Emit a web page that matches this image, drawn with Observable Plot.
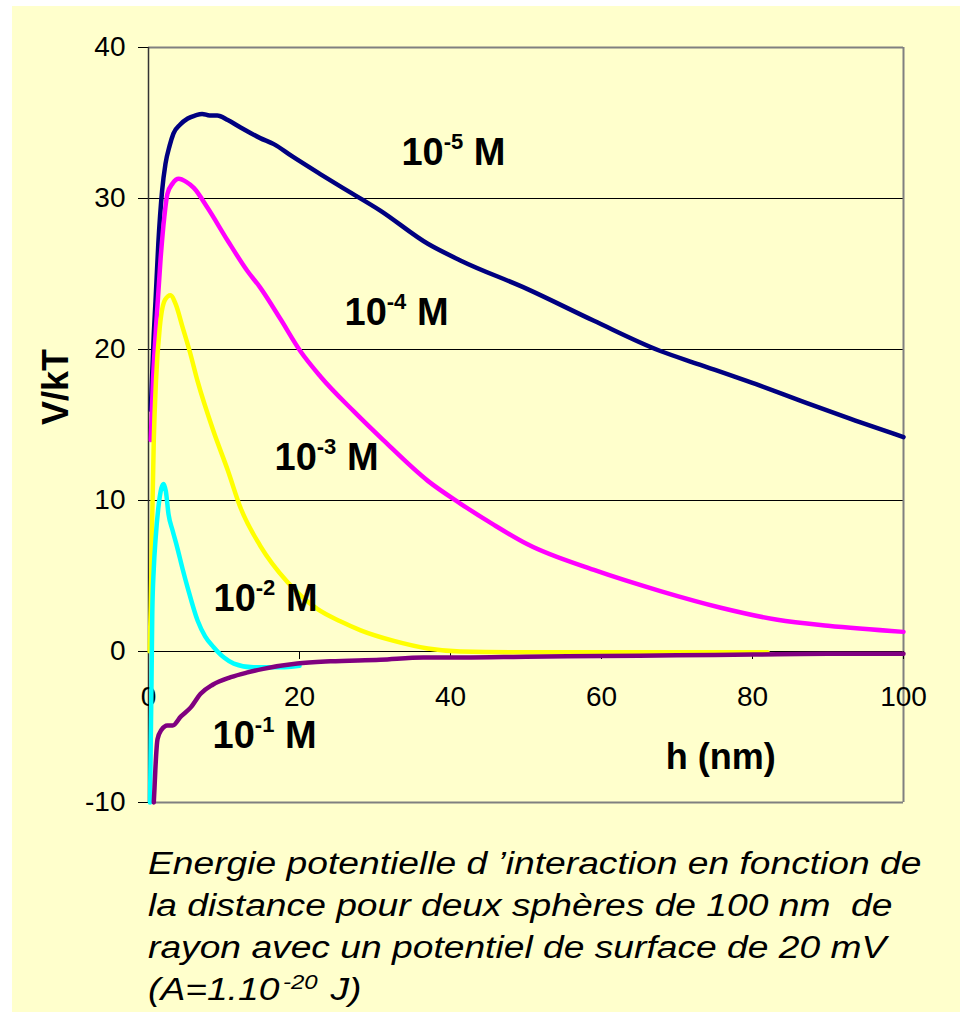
<!DOCTYPE html>
<html><head><meta charset="utf-8">
<script src="https://cdn.jsdelivr.net/npm/d3@7"></script>
<script src="https://cdn.jsdelivr.net/npm/@observablehq/plot@0.6"></script>
<style>
html,body{margin:0;padding:0;background:#fff;}
#bg{position:absolute;left:12px;top:6px;width:948px;height:1006px;background:#FFFFCC;}
#chart{position:absolute;left:0;top:0;}
#caption{position:absolute;left:148px;top:843px;font-family:"Liberation Sans",Arial,sans-serif;font-style:italic;font-size:31px;line-height:42px;white-space:pre;transform:scaleX(1.2);transform-origin:0 0;color:#000;}
#caption .sup{font-size:20px;vertical-align:super;line-height:0;margin-left:3px;margin-right:2px;}
</style></head><body>
<div id="bg"></div><div id="chart"></div><div id="caption"></div>
<script>
// ---------- data ----------
const xTicks = [0, 20, 40, 60, 80, 100];
const yTicks = [-10, 0, 10, 20, 30, 40];
const xLabel = "h (nm)";
const yLabel = "V/kT";

// 10^-5 M
const h_m5 = [0.3, 0.5, 0.7, 0.93, 1.3, 1.8, 2.25, 2.8, 3.3, 4.2, 5.2, 6.2, 7.1, 8.1, 9.1, 10.5, 12.2, 14.8, 16.6, 19, 22.8, 25.4, 30.7, 37, 41.3, 50.2, 59, 67.8, 73, 81, 86.4, 93, 100];
const v_m5 = [16, 18.5, 21, 23.2, 27, 30.5, 32.3, 33.5, 34.3, 34.9, 35.3, 35.5, 35.6, 35.5, 35.5, 35.2, 34.7, 34.0, 33.6, 32.8, 31.6, 30.8, 29.2, 27.0, 25.9, 24.0, 21.9, 19.9, 19.0, 17.6, 16.6, 15.4, 14.2];
// 10^-4 M
const h_m4 = [0.3, 0.6, 1.0, 1.6, 2.1, 2.5, 3.2, 4.0, 5.0, 6.0, 7.8, 10.5, 13.1, 14.8, 17.5, 20.1, 22.8, 27.2, 31.1, 37, 41.3, 45.7, 50.2, 59, 67.8, 75.8, 83.3, 90, 100];
const v_m4 = [14, 18, 21.5, 26, 28.8, 30.3, 31.0, 31.3, 31.1, 30.7, 29.4, 27.2, 25.2, 24.1, 22.0, 19.9, 18.2, 15.9, 14.0, 11.3, 9.8, 8.4, 7.1, 5.4, 4.0, 2.9, 2.1, 1.7, 1.3];
// 10^-3 M
const h_m3 = [0.15, 0.3, 0.5, 0.7, 1.0, 1.5, 2.2, 2.9, 3.6, 4.5, 5.5, 6.5, 8.6, 10.5, 12.2, 14.8, 18.4, 22.4, 25.4, 28.1, 32.5, 37, 41.3, 50, 60, 70, 82];
const v_m3 = [0, 3, 9, 14, 18, 21.5, 23.3, 23.6, 23.0, 21.5, 19.8, 17.9, 14.6, 12.0, 9.5, 7.0, 4.6, 2.8, 2.0, 1.4, 0.7, 0.2, 0.0, -0.05, -0.05, -0.05, -0.05];
// 10^-2 M
const h_m2 = [0.2, 0.3, 0.4, 0.5, 0.7, 0.93, 1.3, 1.7, 2.0, 2.3, 2.65, 3.2, 3.8, 4.5, 5.2, 6.5, 7.5, 8.6, 10, 11.3, 13.9, 17.5, 20];
const v_m2 = [-10, -6, -2, 2.5, 5.5, 7.4, 9.5, 10.8, 11.1, 10.6, 9.1, 8.0, 6.9, 5.5, 4.2, 2.05, 1.0, 0.3, -0.4, -0.8, -1.05, -1.05, -0.95];
// 10^-1 M
const h_m1 = [0.7, 0.8, 0.9, 1.2, 1.7, 2.5, 3.2, 4.3, 5.6, 6.9, 8.5, 10.9, 13, 15.2, 19.7, 24.1, 30.7, 36.4, 41.7, 50, 60, 70, 80, 90, 100];
const v_m1 = [-10, -9, -7.9, -5.8, -5.2, -4.9, -4.9, -4.3, -3.7, -2.8, -2.2, -1.7, -1.4, -1.15, -0.8, -0.65, -0.55, -0.4, -0.4, -0.35, -0.3, -0.25, -0.2, -0.15, -0.15];

const labelBase = ["10", "10", "10", "10", "10"];
const labelExp  = ["-5", "-4", "-3", "-2", "-1"];
const labelUnit = [" M", " M", " M", " M", " M"];

const captionLines = [
  "Energie potentielle d \u2019interaction en fonction de",
  "la distance pour deux sph\u00e8res de 100 nm  de",
  "rayon avec un potentiel de surface de 20 mV"
];
const captionLast = ["(A=1.10", "-20", "J)"];

// ---------- chart ----------
const SEP = "\u2063";
const series = [
  {h: h_m5, v: v_m5, stroke: "#000080"},
  {h: h_m4, v: v_m4, stroke: "#FF00FF"},
  {h: h_m3, v: v_m3, stroke: "#FFFF00"},
  {h: h_m2, v: v_m2, stroke: "#00FFFF"},
  {h: h_m1, v: v_m1, stroke: "#800080"}
];
// label anchor positions (data coords), one per label
const labelAnchors = [[33.5, 32.25], [25.96, 21.59], [16.69, 12.05], [8.61, 2.71], [8.48, -6.36]];
const labelData = labelBase.map((b, i) => ({x: labelAnchors[i][0], y: labelAnchors[i][1], text: b + SEP + labelExp[i] + SEP + labelUnit[i]}));

const plot = Plot.plot({
  width: 968, height: 830,
  marginLeft: 148, marginRight: 65, marginTop: 47, marginBottom: 28,
  x: {domain: [0, 100], axis: null},
  y: {domain: [-10, 40], axis: null},
  style: {background: "transparent", fontFamily: "'Liberation Sans', Arial, sans-serif", color: "#000", overflow: "visible"},
  marks: [
    Plot.ruleY(yTicks.filter(d => d > 0 && d < 40), {stroke: "#000", strokeWidth: 1}),
    Plot.ruleY([0], {stroke: "#000", strokeWidth: 1.2}),
    Plot.ruleY([40, -10], {stroke: "#808080", strokeWidth: 2}),
    Plot.ruleX([100], {stroke: "#808080", strokeWidth: 2}),
    Plot.ruleX(xTicks.filter(d => d > 0), {x: d => d, y1: 0, y2: 0, insetBottom: -8, stroke: "#000", strokeWidth: 1}),
    Plot.axisY({ticks: yTicks, tickSize: 10, tickPadding: 13, fontSize: 28, tickFormat: d => String(d), label: null}),
    Plot.ruleX([0], {stroke: "#333", strokeWidth: 1.5}),
    Plot.text(xTicks, {x: d => d, y: 0, dy: 46, text: d => String(d), fontSize: 28}),
    ...series.map(s => Plot.line(d3.zip(s.h, s.v), {x: d => d[0], y: d => d[1], stroke: s.stroke, strokeWidth: 4.5, curve: "monotone-x"})),
    Plot.text(labelData, {x: "x", y: "y", text: "text", fontSize: 38, fontWeight: "bold", textAnchor: "start", lineAnchor: "bottom"}),
    Plot.text([xLabel], {x: 75.8, y: -7.75, text: d => d, fontSize: 36, fontWeight: "bold", lineAnchor: "bottom"}),
    Plot.text([yLabel], {frameAnchor: "left", dx: -92, rotate: -90, text: d => d, fontSize: 36, fontWeight: "bold"})
  ]
});
document.getElementById("chart").append(plot);

// superscripts
const NS = "http://www.w3.org/2000/svg";
for (const t of plot.querySelectorAll("text")) {
  const s = t.textContent;
  if (!s.includes(SEP)) continue;
  const [base, sup, tail] = s.split(SEP);
  t.textContent = "";
  const a = document.createElementNS(NS, "tspan"); a.textContent = base; t.append(a);
  const b = document.createElementNS(NS, "tspan"); b.textContent = sup; b.setAttribute("dy", "-16"); b.setAttribute("font-size", "22"); t.append(b);
  const c = document.createElementNS(NS, "tspan"); c.textContent = tail; c.setAttribute("dy", "16"); t.append(c);
}

// caption
const cap = document.getElementById("caption");
cap.innerHTML = captionLines.map(l => "<span>" + l + "</span>").join("\n") + "\n" +
  "<span>" + captionLast[0] + '</span><span class="sup">' + captionLast[1] + "</span> <span>" + captionLast[2] + "</span>";
</script></body></html>
